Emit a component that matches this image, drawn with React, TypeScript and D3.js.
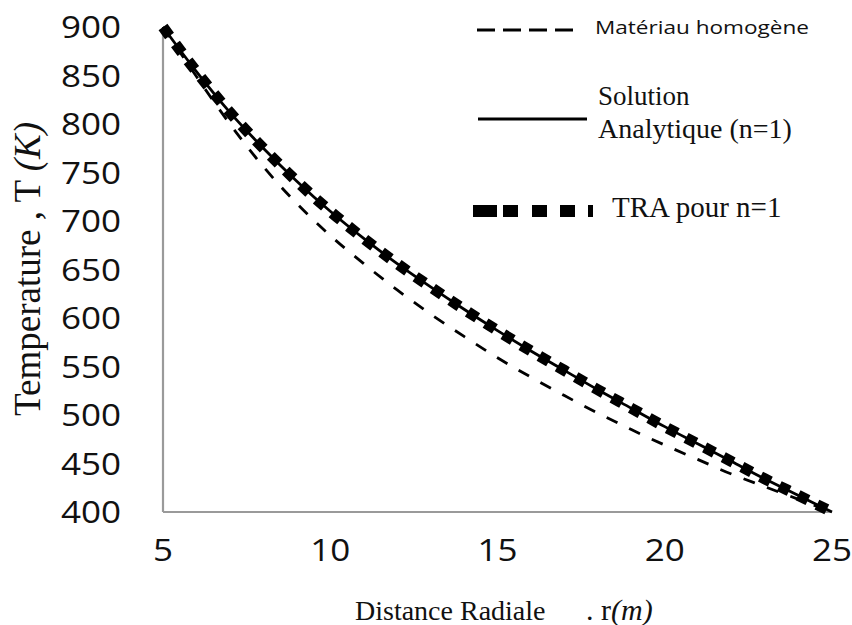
import * as d3 from "d3";

const radius = [5, 6, 7, 8, 9, 10, 11, 12, 13, 14, 15, 16, 17, 18, 19, 20, 21, 22, 23, 24, 25];
const homogeneous = [900, 849, 800, 756, 718, 685, 656, 629, 604, 581, 559, 539, 520, 502, 485, 469, 454, 439, 426, 413, 400];
const analytic = [900, 854, 812, 775, 741, 710, 682, 656, 632, 609, 587, 566, 546, 526, 507, 488, 470, 452, 434, 417, 400];
const tra = [900, 854, 812, 775, 741, 710, 682, 656, 632, 609, 587, 566, 546, 526, 507, 488, 470, 452, 434, 417, 400];

const xTicks = [5, 10, 15, 20, 25];
const yTicks = [400, 450, 500, 550, 600, 650, 700, 750, 800, 850, 900];

const W = 852;
const H = 625;
const sans = "'Open Sans', sans-serif";
const serif = "'Liberation Serif', 'Times New Roman', serif";

export default function App() {
  const x = d3.scaleLinear().domain([5, 25]).range([163, 832]);
  const y = d3.scaleLinear().domain([400, 900]).range([512, 27]);

  const line = (vals: number[]) =>
    d3
      .line<number>()
      .x((_, i) => x(radius[i]))
      .y((d) => y(d))
      .curve(d3.curveMonotoneX)(vals) || "";

  return (
    <svg
      width={W}
      height={H}
      style={{ position: "absolute", left: 0, top: 0, background: "#fff" }}
    >
      {/* axes */}
      <line x1={x(5)} x2={x(5)} y1={y(900)} y2={y(400)} stroke="#9a9a9a" strokeWidth={2.2} />
      <line x1={x(5)} x2={x(25)} y1={y(400)} y2={y(400)} stroke="#9a9a9a" strokeWidth={2.2} />

      {yTicks.map((t) => (
        <text
          key={t}
          transform={`translate(121,${y(t)}) scale(1.13,1)`}
          dy="0.36em"
          textAnchor="end"
          fontFamily={sans}
          fontSize={31}
          fill="#111"
        >
          {t}
        </text>
      ))}
      {xTicks.map((t) => (
        <text
          key={t}
          transform={`translate(${x(t)},561) scale(1.13,1)`}
          textAnchor="middle"
          fontFamily={sans}
          fontSize={31}
          fill="#111"
        >
          {t}
        </text>
      ))}

      {/* series */}
      <path d={line(homogeneous)} fill="none" stroke="#000" strokeWidth={2.8} strokeDasharray="12 13" />
      <path d={line(tra)} fill="none" stroke="#000" strokeWidth={11} strokeDasharray="11 10" />
      <path d={line(analytic)} fill="none" stroke="#000" strokeWidth={2.8} />

      {/* axis titles */}
      <text
        transform={`translate(40,269) rotate(-90)`}
        textAnchor="middle"
        fontFamily={serif}
        fontSize={37}
        fill="#111"
      >
        Temperature , T <tspan fontStyle="italic">(K)</tspan>
      </text>
      <text x={355} y={620} fontFamily={serif} fontSize={28} fill="#111">
        Distance Radiale
      </text>
      <text x={586} y={620} fontFamily={serif} fontSize={30} fill="#111">
        . r<tspan fontStyle="italic">(m)</tspan>
      </text>

      {/* legend */}
      <line x1={477} x2={577} y1={30} y2={30} stroke="#000" strokeWidth={2.8} strokeDasharray="18 8" />
      <text
        x={595}
        y={34}
        fontFamily={sans}
        fontSize={19}
        fill="#111"
        textLength={214}
        lengthAdjust="spacingAndGlyphs"
      >
        Matériau homogène
      </text>

      <line x1={478} x2={587} y1={119} y2={119} stroke="#000" strokeWidth={3.2} />
      <text x={598} y={105} fontFamily={serif} fontSize={27} fill="#111">
        Solution
      </text>
      <text x={598} y={138} fontFamily={serif} fontSize={28} fill="#111">
        Analytique (n=1)
      </text>

      <line
        x1={473}
        x2={593}
        y1={211}
        y2={211}
        stroke="#000"
        strokeWidth={12}
        strokeDasharray="24 6 15 14 15 13 15 13 8"
      />
      <text x={612} y={217} fontFamily={serif} fontSize={29} fill="#111">
        TRA pour n=1
      </text>
    </svg>
  );
}
